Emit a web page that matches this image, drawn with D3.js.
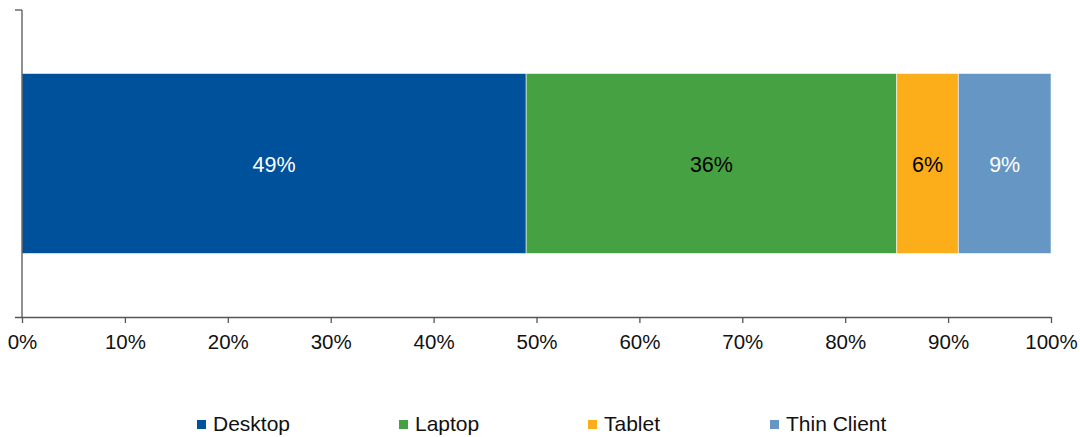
<!DOCTYPE html>
<html>
<head>
<meta charset="utf-8">
<script src="https://cdn.jsdelivr.net/npm/d3@7"></script>
<style>
  html, body { margin: 0; padding: 0; background: #fff; }
  svg { display: block; font-family: "Liberation Sans", Arial, sans-serif; }
</style>
</head>
<body>
<svg id="chart" width="1080" height="437"></svg>
<script>
// Device type share (single stacked bar, percent)
const categories = ["Desktop", "Laptop", "Tablet", "Thin Client"];
const values = [49, 36, 6, 9];
const colors = ["#00519B", "#46A142", "#FBAE19", "#6696C3"];
const labelColors = ["#ffffff", "#000000", "#000000", "#ffffff"];
const xTicks = [0, 10, 20, 30, 40, 50, 60, 70, 80, 90, 100];

const svg = d3.select("#chart");
const plotLeft = 22, plotRight = 1051, axisY = 317, plotTop = 10;

const x = d3.scaleLinear().domain([0, 100]).range([plotLeft, plotRight]);
const y = d3.scaleBand().domain(["all"]).range([plotTop, axisY]).paddingInner(0).paddingOuter(0.3528);

// stacked segments
let acc = 0;
const segs = values.map((v, i) => {
  const s = { name: categories[i], v, x0: acc, x1: acc + v, color: colors[i], lc: labelColors[i] };
  acc += v;
  return s;
});

const by = y("all");
const bh = y.bandwidth();

svg.append("g").selectAll("rect").data(segs).join("rect")
  .attr("x", d => x(d.x0))
  .attr("y", by)
  .attr("width", d => x(d.x1) - x(d.x0))
  .attr("height", bh)
  .attr("fill", d => d.color)
  .attr("stroke", "rgba(255,255,255,0.55)")
  .attr("stroke-width", 1);

svg.append("g").selectAll("text").data(segs).join("text")
  .attr("x", d => (x(d.x0) + x(d.x1)) / 2)
  .attr("y", by + bh / 2 + 8)
  .attr("text-anchor", "middle")
  .attr("font-size", 21.5)
  .attr("fill", d => d.lc)
  .text(d => d.v + "%");

// y axis (category axis line with end tick)
const axisColor = "#555";
svg.append("line").attr("x1", plotLeft).attr("x2", plotLeft).attr("y1", plotTop).attr("y2", axisY)
  .attr("stroke", axisColor).attr("stroke-width", 1.3);
svg.append("line").attr("x1", plotLeft - 7).attr("x2", plotLeft).attr("y1", plotTop).attr("y2", plotTop)
  .attr("stroke", axisColor).attr("stroke-width", 1.3);

// x axis
const xAxis = d3.axisBottom(x).tickValues(xTicks).tickFormat(d => d + "%").tickSize(6).tickSizeOuter(0);
const gx = svg.append("g").attr("transform", `translate(0,${axisY})`).call(xAxis);
gx.select(".domain").attr("d", `M${plotLeft - 7},0.5H${plotRight}`).attr("stroke", axisColor).attr("stroke-width", 1.3);
gx.selectAll(".tick line").attr("stroke", axisColor).attr("stroke-width", 1.3);
gx.selectAll(".tick text").attr("font-size", 20.5).attr("fill", "#111").attr("y", 0).attr("dy", 32)
  .attr("font-family", "'Liberation Sans', Arial, sans-serif");

// legend
const legendX = [197, 399, 588, 770];
const legend = svg.append("g").selectAll("g").data(categories).join("g")
  .attr("transform", (d, i) => `translate(${legendX[i]},431)`);
legend.append("rect").attr("x", 0).attr("y", -11).attr("width", 9).attr("height", 9)
  .attr("fill", (d, i) => colors[i]);
legend.append("text").attr("x", 16).attr("y", 0)
  .attr("font-size", 21).attr("fill", "#111").text(d => d);
</script>
</body>
</html>
